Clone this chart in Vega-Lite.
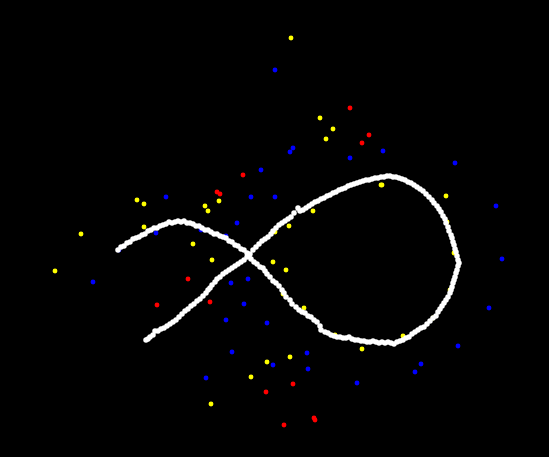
{
  "$schema": "https://vega.github.io/schema/vega-lite/v6.json",
  "width": 549,
  "height": 457,
  "padding": 0,
  "autosize": {"type": "fit", "contains": "padding"},
  "background": "#000000",
  "config": {"view": {"stroke": null}},
  "datasets": {
    "scatter": [
      {"x":291,"y":38,"g":"y"},{"x":320,"y":118,"g":"y"},{"x":333,"y":129,"g":"y"},{"x":326,"y":139,"g":"y"},
      {"x":137,"y":200,"g":"y"},{"x":144,"y":204,"g":"y"},{"x":205,"y":206,"g":"y"},{"x":208,"y":211,"g":"y"},
      {"x":219,"y":201,"g":"y"},{"x":144,"y":227,"g":"y"},{"x":81,"y":234,"g":"y"},{"x":55,"y":271,"g":"y"},
      {"x":193,"y":244,"g":"y"},{"x":212,"y":260,"g":"y"},{"x":273,"y":262,"g":"y"},{"x":286,"y":270,"g":"y"},
      {"x":313,"y":211,"g":"y"},{"x":289,"y":226,"g":"y"},{"x":275,"y":232,"g":"y"},{"x":381,"y":185,"g":"y"},
      {"x":382,"y":185,"g":"y"},{"x":446,"y":196,"g":"y"},{"x":447,"y":222,"g":"y"},{"x":454,"y":253,"g":"y"},
      {"x":450,"y":290,"g":"y"},{"x":433,"y":318,"g":"y"},{"x":403,"y":336,"g":"y"},{"x":283,"y":294,"g":"y"},
      {"x":304,"y":308,"g":"y"},{"x":335,"y":335,"g":"y"},{"x":362,"y":349,"g":"y"},{"x":290,"y":357,"g":"y"},
      {"x":267,"y":362,"g":"y"},{"x":251,"y":377,"g":"y"},{"x":211,"y":404,"g":"y"},
      {"x":275,"y":70,"g":"b"},{"x":261,"y":170,"g":"b"},{"x":166,"y":197,"g":"b"},{"x":251,"y":197,"g":"b"},
      {"x":275,"y":197,"g":"b"},{"x":293,"y":148,"g":"b"},{"x":290,"y":152,"g":"b"},{"x":383,"y":151,"g":"b"},
      {"x":350,"y":158,"g":"b"},{"x":455,"y":163,"g":"b"},{"x":496,"y":206,"g":"b"},{"x":502,"y":259,"g":"b"},
      {"x":489,"y":308,"g":"b"},{"x":458,"y":346,"g":"b"},{"x":421,"y":364,"g":"b"},{"x":415,"y":372,"g":"b"},
      {"x":237,"y":223,"g":"b"},{"x":156,"y":233,"g":"b"},{"x":201,"y":230,"g":"b"},{"x":226,"y":236,"g":"b"},
      {"x":119,"y":250,"g":"b"},{"x":93,"y":282,"g":"b"},{"x":231,"y":283,"g":"b"},{"x":248,"y":279,"g":"b"},
      {"x":244,"y":304,"g":"b"},{"x":226,"y":320,"g":"b"},{"x":267,"y":323,"g":"b"},{"x":232,"y":352,"g":"b"},
      {"x":206,"y":378,"g":"b"},{"x":273,"y":365,"g":"b"},{"x":307,"y":353,"g":"b"},{"x":308,"y":369,"g":"b"},
      {"x":357,"y":383,"g":"b"},
      {"x":350,"y":108,"g":"r"},{"x":369,"y":135,"g":"r"},{"x":362,"y":143,"g":"r"},{"x":243,"y":175,"g":"r"},
      {"x":217,"y":192,"g":"r"},{"x":220,"y":194,"g":"r"},{"x":188,"y":279,"g":"r"},{"x":210,"y":302,"g":"r"},
      {"x":157,"y":305,"g":"r"},{"x":293,"y":384,"g":"r"},{"x":266,"y":392,"g":"r"},{"x":284,"y":425,"g":"r"},
      {"x":314,"y":418,"g":"r"},{"x":315,"y":420,"g":"r"}
    ],
    "curve": [
      {"x":118,"y":250},{"x":121,"y":247},{"x":124,"y":246},{"x":127,"y":243},{"x":130,"y":242},{"x":133,"y":239},
      {"x":136,"y":238},{"x":139,"y":237},{"x":142,"y":235},{"x":145,"y":234},{"x":148,"y":231},{"x":151,"y":230},
      {"x":154,"y":228},{"x":157,"y":228},{"x":160,"y":226},{"x":163,"y":225},{"x":166,"y":224},{"x":169,"y":222},
      {"x":172,"y":223},{"x":175,"y":222},{"x":178,"y":221},{"x":181,"y":222},{"x":184,"y":221},{"x":187,"y":223},
      {"x":190,"y":223},{"x":193,"y":224},{"x":196,"y":226},{"x":199,"y":226},{"x":202,"y":228},{"x":205,"y":230},
      {"x":208,"y":230},{"x":211,"y":232},{"x":214,"y":234},{"x":217,"y":234},{"x":220,"y":236},{"x":223,"y":237},
      {"x":226,"y":238},{"x":229,"y":241},{"x":232,"y":242},{"x":235,"y":245},{"x":238,"y":246},{"x":241,"y":249},
      {"x":244,"y":250},{"x":247,"y":253},{"x":249,"y":256},
      {"x":251,"y":259},{"x":254,"y":262},{"x":257,"y":264},{"x":260,"y":267},{"x":263,"y":268},{"x":265,"y":271},
      {"x":267,"y":274},{"x":270,"y":277},{"x":273,"y":281},{"x":276,"y":283},{"x":279,"y":286},{"x":282,"y":290},
      {"x":284,"y":293},{"x":286,"y":297},{"x":290,"y":300},{"x":292,"y":304},{"x":296,"y":307},{"x":299,"y":310},
      {"x":302,"y":312},{"x":305,"y":313},{"x":308,"y":316},{"x":311,"y":317},{"x":314,"y":320},{"x":317,"y":322},
      {"x":320,"y":326},{"x":321,"y":330},{"x":325,"y":332},{"x":328,"y":333},{"x":331,"y":335},{"x":334,"y":336},
      {"x":337,"y":337},{"x":340,"y":337},{"x":343,"y":338},{"x":346,"y":338},{"x":349,"y":337},{"x":352,"y":339},
      {"x":355,"y":340},{"x":358,"y":340},{"x":361,"y":341},{"x":364,"y":341},{"x":367,"y":342},{"x":370,"y":342},
      {"x":373,"y":341},{"x":376,"y":342},{"x":379,"y":343},{"x":382,"y":342},{"x":385,"y":343},{"x":388,"y":342},
      {"x":391,"y":343},{"x":394,"y":344},{"x":397,"y":342},{"x":400,"y":341},{"x":403,"y":340},{"x":406,"y":338},
      {"x":409,"y":337},{"x":412,"y":334},{"x":415,"y":332},{"x":418,"y":330},{"x":421,"y":328},{"x":424,"y":327},
      {"x":427,"y":324},{"x":430,"y":321},{"x":433,"y":318},{"x":436,"y":316},{"x":438,"y":312},{"x":440,"y":309},
      {"x":442,"y":306},{"x":444,"y":303},{"x":446,"y":300},{"x":448,"y":297},{"x":450,"y":293},{"x":451,"y":290},
      {"x":452,"y":287},{"x":453,"y":283},{"x":454,"y":280},{"x":455,"y":277},{"x":456,"y":273},{"x":457,"y":270},
      {"x":458,"y":266},{"x":459,"y":263},{"x":458,"y":260},{"x":457,"y":256},{"x":456,"y":252},{"x":455,"y":249},
      {"x":454,"y":245},{"x":453,"y":242},{"x":452,"y":238},{"x":451,"y":235},{"x":449,"y":231},{"x":448,"y":227},
      {"x":446,"y":223},{"x":445,"y":219},{"x":443,"y":216},{"x":441,"y":212},{"x":439,"y":209},{"x":437,"y":206},
      {"x":434,"y":203},{"x":432,"y":200},{"x":429,"y":197},{"x":426,"y":194},{"x":423,"y":191},{"x":420,"y":189},
      {"x":417,"y":187},{"x":414,"y":185},{"x":411,"y":183},{"x":408,"y":182},{"x":405,"y":180},{"x":402,"y":179},
      {"x":399,"y":178},{"x":396,"y":177},{"x":393,"y":177},{"x":390,"y":176},{"x":387,"y":176},{"x":384,"y":177},
      {"x":381,"y":177},{"x":378,"y":178},{"x":375,"y":178},{"x":372,"y":179},{"x":369,"y":180},{"x":366,"y":180},
      {"x":363,"y":181},{"x":360,"y":182},{"x":357,"y":183},{"x":354,"y":184},{"x":351,"y":185},{"x":348,"y":186},
      {"x":345,"y":188},{"x":342,"y":189},{"x":339,"y":190},{"x":336,"y":192},{"x":333,"y":193},{"x":330,"y":195},
      {"x":327,"y":196},{"x":324,"y":198},{"x":321,"y":199},{"x":318,"y":201},{"x":315,"y":202},{"x":312,"y":204},
      {"x":309,"y":206},{"x":306,"y":208},{"x":303,"y":210},{"x":300,"y":211},{"x":298,"y":208},{"x":294,"y":213},
      {"x":291,"y":217},{"x":288,"y":219},{"x":285,"y":221},{"x":282,"y":223},{"x":279,"y":225},{"x":276,"y":228},
      {"x":273,"y":231},{"x":271,"y":234},{"x":268,"y":237},{"x":265,"y":239},{"x":262,"y":241},{"x":259,"y":244},
      {"x":256,"y":247},{"x":253,"y":250},{"x":250,"y":254},
      {"x":247,"y":257},{"x":244,"y":260},{"x":241,"y":262},{"x":238,"y":264},{"x":235,"y":266},{"x":232,"y":268},
      {"x":229,"y":270},{"x":226,"y":272},{"x":223,"y":274},{"x":220,"y":277},{"x":217,"y":279},{"x":215,"y":282},
      {"x":212,"y":285},{"x":210,"y":288},{"x":208,"y":290},{"x":206,"y":293},{"x":203,"y":296},{"x":200,"y":299},
      {"x":197,"y":301},{"x":194,"y":304},{"x":191,"y":306},{"x":188,"y":309},{"x":185,"y":311},{"x":182,"y":314},
      {"x":179,"y":317},{"x":176,"y":320},{"x":173,"y":322},{"x":170,"y":324},{"x":167,"y":326},{"x":164,"y":328},
      {"x":161,"y":329},{"x":158,"y":331},{"x":155,"y":331},{"x":153,"y":335},{"x":150,"y":337},{"x":148,"y":339},
      {"x":146,"y":340}
    ]
  },
  "layer": [
    {
      "data": {"name": "scatter"},
      "mark": {"type": "circle", "opacity": 1},
      "encoding": {
        "x": {"field": "x", "type": "quantitative", "scale": {"domain": [0, 549], "nice": false, "zero": false}, "axis": null},
        "y": {"field": "y", "type": "quantitative", "scale": {"domain": [0, 457], "nice": false, "zero": false, "reverse": true}, "axis": null},
        "color": {"field": "g", "type": "nominal", "scale": {"domain": ["y", "b", "r"], "range": ["#ffff00", "#0000ff", "#ff0000"]}, "legend": null},
        "size": {"value": 24}
      }
    },
    {
      "data": {"name": "curve"},
      "mark": {"type": "line", "color": "#ffffff", "strokeWidth": 1},
      "encoding": {
        "x": {"field": "x", "type": "quantitative"},
        "y": {"field": "y", "type": "quantitative"},
        "order": {"value": null}
      }
    },
    {
      "data": {"name": "curve"},
      "mark": {"type": "circle", "opacity": 1, "color": "#ffffff"},
      "encoding": {
        "x": {"field": "x", "type": "quantitative"},
        "y": {"field": "y", "type": "quantitative"},
        "size": {"value": 30}
      }
    }
  ]
}
